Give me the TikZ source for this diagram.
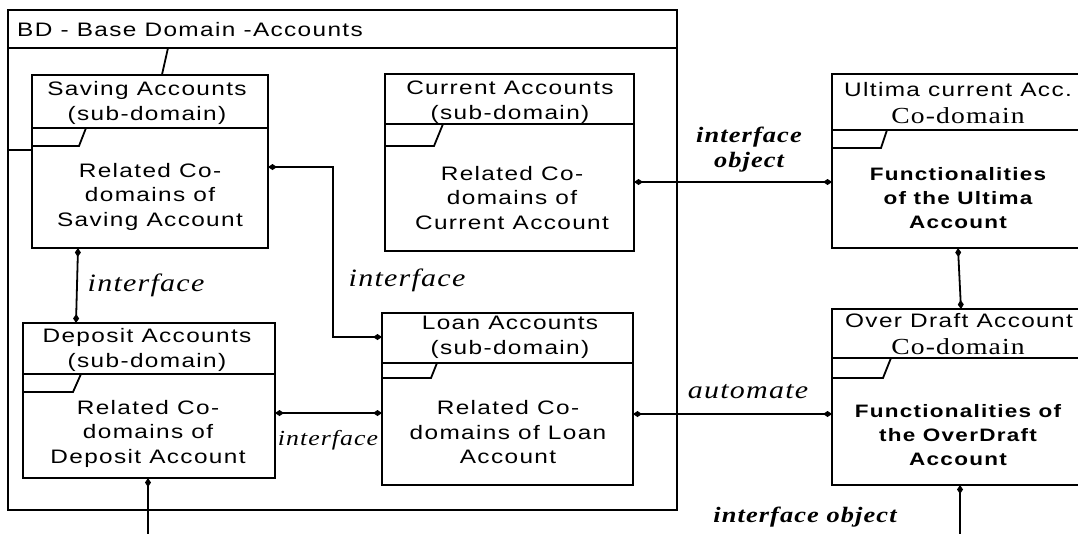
\documentclass[tikz,border=0pt]{standalone}
\usepackage{fontspec}
\setmainfont{Liberation Serif}[FakeStretch=1.2,LetterSpace=5]
\setsansfont{Liberation Sans}[FakeStretch=1.25,LetterSpace=7]
\usetikzlibrary{arrows.meta,fit}

\tikzset{
  frame/.style={draw, line width=1.8pt, fill=white, inner sep=0pt, outer sep=0pt},
  rule/.style={line width=1.8pt},
  conn/.style={line width=1.4pt, {Diamond[length=9pt,width=6pt]}-{Diamond[length=9pt,width=6pt]}},
  stub/.style={line width=1.4pt, {Diamond[length=9pt,width=6pt]}-},
  head/.style={font=\sffamily\fontsize{19.5}{25}\selectfont, align=center, inner sep=0pt},
  codom/.style={font=\rmfamily\fontsize{23}{25}\selectfont, inner sep=0pt},
  body/.style={font=\sffamily\fontsize{19.5}{24.5}\selectfont, align=center, inner sep=0pt},
  func/.style={font=\sffamily\bfseries\fontsize{18}{24}\selectfont, align=center, inner sep=0pt},
  lbl/.style={font=\rmfamily\itshape\fontsize{25}{25}\selectfont, inner sep=0pt},
  blbl/.style={font=\rmfamily\bfseries\itshape\fontsize{22}{25}\selectfont, align=center, inner sep=0pt},
}

% package-style box: name, corners, header rule y, tab bottom y, tab end x, slant top x
\newcommand\pkgbox[9]{%
  \coordinate (#1-a) at (#2,#3);
  \coordinate (#1-b) at (#4,#5);
  \node[frame, fit=(#1-a)(#1-b)] (#1) {};
  \draw[rule] (#2,#6) -- (#4,#6);
  \draw[rule] (#2,#7) -- (#8,#7) -- (#9,#6);
}

\begin{document}
\begin{tikzpicture}[x=1pt,y=-1pt]
\clip (0,0) rectangle (1078,533);

% base domain frame
\coordinate (bd-a) at (8,10);
\coordinate (bd-b) at (677,510);
\node[frame, fit=(bd-a)(bd-b)] (bd) {};
\draw[rule] (8,48) -- (677,48);
\draw[rule] (8,150) -- (145,150) -- (168,48);
\node[head, anchor=west] (bd-t) at (17,30) {BD - Base Domain -Accounts};

% sub-domains and co-domains
\pkgbox{sav}{32}{75}{268}{248}{128}{146}{79}{86}
\pkgbox{cur}{385}{74}{634}{251}{124}{146}{434}{443}
\pkgbox{ult}{832}{74}{1090}{248}{130}{148}{881}{887}
\pkgbox{od}{832}{309}{1090}{485}{358}{378}{883}{891}
\pkgbox{loan}{382}{313}{633}{485}{363}{378}{431}{437}
\pkgbox{dep}{23}{323}{275}{478}{374}{392}{73}{81}

\node[head] (sav-t) at (147,102.5) {Saving Accounts\\(sub-domain)};
\node[body] (sav-b) at (150,196.5) {Related Co-\\domains of\\Saving Account};
\node[head] (cur-t) at (510,102.5) {Current Accounts\\(sub-domain)};
\node[body] (cur-b) at (512,198) {Related Co-\\domains of\\Current Account};
\node[head] (ult-t) at (958,90) {Ultima current Acc.};
\node[codom] (ult-c) at (958,116) {Co-domain};
\node[func] (ult-b) at (958,198) {Functionalities\\of the Ultima\\Account};
\node[head] (od-t) at (959,321) {Over Draft Account};
\node[codom] (od-c) at (958,347) {Co-domain};
\node[func] (od-b) at (958,435) {Functionalities of\\the OverDraft\\Account};
\node[head] (dep-t) at (147,349.5) {Deposit Accounts\\(sub-domain)};
\node[body] (dep-b) at (148,433.5) {Related Co-\\domains of\\Deposit Account};
\node[head] (loan-t) at (510,337.5) {Loan Accounts\\(sub-domain)};
\node[body] (loan-b) at (508,432.5) {Related Co-\\domains of Loan\\Account};

% connectors
\draw[conn] (cur.east |- 0,182) -- (ult.west |- 0,182);
\draw[conn, line width=1.8pt] (sav.south -| 78,0) -- (dep.north -| 76,0);
\coordinate (bend) at (333,337);
\draw[conn] (sav.east |- 0,167) -| (bend) -- (loan.west |- bend);
\draw[conn] (dep.east |- 0,413) -- (loan.west |- 0,413);
\draw[conn] (loan.east |- 0,414) -- (od.west |- 0,414);
\draw[conn, line width=1.8pt] (ult.south -| 958,0) -- (od.north -| 961,0);
\coordinate (dep-out) at (148,540);
\coordinate (od-out) at (960,540);
\draw[stub] (dep.south -| dep-out) -- (dep-out);
\draw[stub] (od.south -| od-out) -- (od-out);

% connector labels
\node[lbl] (l-sd) at (146,285) {interface};
\node[lbl] (l-sl) at (407,280) {interface};
\node[lbl, font=\rmfamily\itshape\fontsize{21.5}{25}\selectfont] (l-dl) at (328,440) {interface};
\node[lbl] (l-auto) at (748,392) {automate};
\node[blbl] (l-io) at (749,150) {interface\\object};
\node[blbl] (l-io2) at (805,517) {interface object};
\end{tikzpicture}
\end{document}
